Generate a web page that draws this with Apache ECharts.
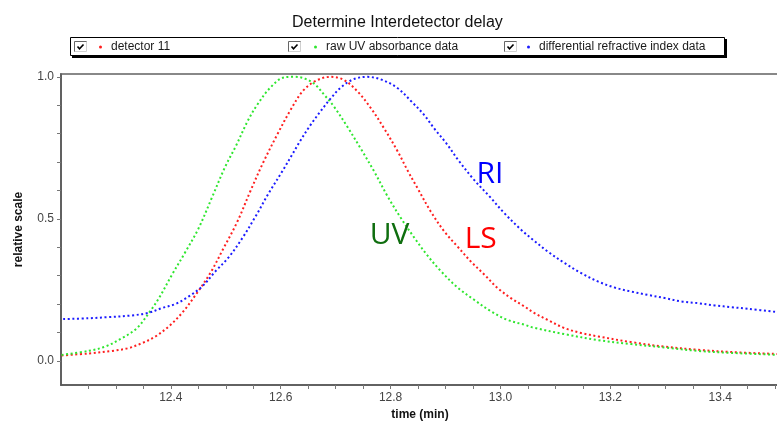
<!DOCTYPE html>
<html>
<head>
<meta charset="utf-8">
<title>Determine Interdetector delay</title>
<script src="https://cdn.jsdelivr.net/npm/echarts@6/dist/echarts.min.js"></script>
<style>
html, body { margin: 0; padding: 0; background: #fff; }
#main { width: 777px; height: 421px; }
</style>
</head>
<body>
<div id="main"></div>
<script>
// detector 11 (LS)
var lsTime  = [12.201, 12.25, 12.293, 12.323, 12.347, 12.372, 12.396, 12.42, 12.445, 12.472, 12.496, 12.521, 12.545, 12.569, 12.594, 12.618, 12.642, 12.667, 12.691, 12.715, 12.74, 12.764, 12.788, 12.813, 12.831, 12.849, 12.873, 12.898, 12.922, 12.946, 12.971, 12.995, 13.019, 13.044, 13.06, 13.086, 13.117, 13.147, 13.178, 13.238, 13.299, 13.36, 13.421, 13.507];
var lsValue = [0.019, 0.026, 0.035, 0.045, 0.062, 0.086, 0.121, 0.168, 0.232, 0.31, 0.397, 0.49, 0.599, 0.702, 0.798, 0.884, 0.954, 0.989, 1.0, 0.989, 0.948, 0.89, 0.819, 0.737, 0.67, 0.608, 0.526, 0.455, 0.402, 0.35, 0.303, 0.256, 0.221, 0.191, 0.17, 0.144, 0.115, 0.098, 0.086, 0.066, 0.05, 0.039, 0.031, 0.024];

// raw UV absorbance data
var uvTime  = [12.201, 12.25, 12.28, 12.311, 12.338, 12.362, 12.378, 12.402, 12.426, 12.45, 12.475, 12.499, 12.518, 12.54, 12.557, 12.581, 12.606, 12.625, 12.645, 12.663, 12.679, 12.697, 12.721, 12.746, 12.77, 12.794, 12.819, 12.843, 12.867, 12.892, 12.922, 12.952, 12.983, 13.013, 13.044, 13.06, 13.117, 13.178, 13.238, 13.299, 13.36, 13.421, 13.507];
var uvValue = [0.021, 0.035, 0.05, 0.08, 0.115, 0.174, 0.22, 0.303, 0.382, 0.465, 0.576, 0.684, 0.755, 0.845, 0.901, 0.962, 0.998, 1.0, 0.993, 0.972, 0.937, 0.895, 0.825, 0.746, 0.667, 0.581, 0.502, 0.434, 0.371, 0.315, 0.258, 0.215, 0.174, 0.144, 0.127, 0.117, 0.094, 0.073, 0.059, 0.047, 0.035, 0.028, 0.021];

// differential refractive index data
var riTime  = [12.204, 12.25, 12.286, 12.329, 12.359, 12.384, 12.408, 12.432, 12.457, 12.481, 12.505, 12.53, 12.554, 12.578, 12.603, 12.621, 12.636, 12.654, 12.673, 12.691, 12.709, 12.733, 12.758, 12.785, 12.813, 12.837, 12.861, 12.879, 12.901, 12.925, 12.952, 12.98, 13.007, 13.038, 13.06, 13.086, 13.117, 13.147, 13.178, 13.208, 13.238, 13.269, 13.299, 13.33, 13.36, 13.39, 13.421, 13.451, 13.507];
var riValue = [0.147, 0.15, 0.154, 0.16, 0.169, 0.186, 0.2, 0.226, 0.262, 0.315, 0.364, 0.432, 0.508, 0.59, 0.668, 0.727, 0.776, 0.83, 0.88, 0.924, 0.962, 0.992, 1.0, 0.989, 0.96, 0.915, 0.866, 0.819, 0.767, 0.702, 0.637, 0.579, 0.52, 0.461, 0.425, 0.385, 0.344, 0.309, 0.279, 0.258, 0.244, 0.232, 0.221, 0.209, 0.203, 0.195, 0.189, 0.183, 0.171];

var seriesNames = ['detector 11', 'raw UV absorbance data', 'differential refractive index data'];
var seriesColors = ['#ff1f1f', '#2fe62f', '#1c1cff'];

// text notes on the curves
var noteText  = ['LS', 'UV', 'RI'];
var noteTime  = [12.964, 12.798, 12.981];
var noteValue = [0.426, 0.442, 0.658];
var noteColors = ['#ff0000', '#0f6e0f', '#0000ff'];

var xTicks  = [12.25, 12.3, 12.35, 12.4, 12.45, 12.5, 12.55, 12.6, 12.65, 12.7, 12.75, 12.8, 12.85, 12.9, 12.95, 13.0, 13.05, 13.1, 13.15, 13.2, 13.25, 13.3, 13.35, 13.4, 13.45, 13.5];
var xLabels = [12.4, 12.6, 12.8, 13.0, 13.2, 13.4];
var yTicks  = [0, 0.1, 0.2, 0.3, 0.4, 0.5, 0.6, 0.7, 0.8, 0.9, 1.0];
var yLabels = [0, 0.5, 1.0];

function zip(t, v) {
    var out = [];
    for (var i = 0; i < t.length; i++) out.push([t[i], v[i]]);
    return out;
}

var curves = [zip(lsTime, lsValue), zip(uvTime, uvValue), zip(riTime, riValue)];

function checkbox(x) {
    return {
        type: 'group', x: x, y: 41,
        children: [
            { type: 'rect', z: 20, shape: { x: 0.5, y: 0.5, width: 12, height: 10 }, style: { fill: '#fff' } },
            { type: 'polyline', z: 21, shape: { points: [[0.5, 11], [0.5, 0.5], [13, 0.5]] }, style: { stroke: '#666', lineWidth: 1, fill: null } },
            { type: 'polyline', z: 21, shape: { points: [[0.5, 10.5], [12.5, 10.5], [12.5, 0.5]] }, style: { stroke: '#d0d0d0', lineWidth: 1, fill: null } },
            { type: 'polyline', z: 22, shape: { points: [[3.5, 5.5], [5.5, 7.8], [9.5, 3.5]] }, style: { stroke: '#000', lineWidth: 1.6, fill: null } }
        ]
    };
}

var legendLeft = [99, 314, 527];
var legends = [];
var series = [];
for (var i = 0; i < 3; i++) {
    legends.push({
        data: [seriesNames[i]],
        left: legendLeft[i], top: 41, z: 30, padding: 0,
        icon: 'circle', itemWidth: 3, itemHeight: 3,
        selectedMode: false,
        textStyle: { fontFamily: 'Liberation Sans', fontSize: 12, color: '#1a1a1a', padding: [0, 0, 0, 4] }
    });
    series.push({
        name: seriesNames[i],
        type: 'line',
        data: curves[i],
        smooth: 0.35,
        showSymbol: false,
        color: seriesColors[i],
        lineStyle: { width: 2, type: [2, 2.6], cap: 'butt', color: seriesColors[i] },
        markPoint: {
            symbol: 'circle', symbolSize: 1, silent: true,
            itemStyle: { color: 'rgba(0,0,0,0)' },
            label: { show: true, position: 'inside', formatter: noteText[i], color: noteColors[i], fontSize: 30, fontFamily: 'Open Sans' },
            data: [{ coord: [noteTime[i], noteValue[i]] }]
        }
    });
}

var myChart = echarts.init(document.getElementById('main'));
var option = {
    animation: false,
    backgroundColor: '#fff',
    title: {
        text: 'Determine Interdetector delay',
        left: 287, top: 10,
        textStyle: { fontFamily: 'Liberation Sans', fontSize: 16, fontWeight: 'normal', color: '#111' }
    },
    legend: legends,
    graphic: [
        // drop shadow, then the legend frame itself
        { type: 'rect', z: 9, shape: { x: 72, y: 39, width: 655, height: 19 }, style: { fill: '#000' } },
        { type: 'rect', z: 10, shape: { x: 70.5, y: 37.5, width: 654, height: 18 },
          style: { fill: '#fff', stroke: '#000', lineWidth: 1 } },
        checkbox(74), checkbox(288), checkbox(504)
    ],
    grid: { left: 61, right: -2, top: 74, bottom: 36, outerBoundsMode: 'none', containLabel: false,
            show: true, borderColor: '#888', borderWidth: 2 },
    xAxis: {
        type: 'value', min: 12.2, max: 13.507,
        name: 'time (min)', nameLocation: 'middle', nameGap: 21,
        nameTextStyle: { fontFamily: 'Liberation Sans', fontSize: 12, fontWeight: 'bold', color: '#111' },
        axisLine: { onZero: false, lineStyle: { color: '#555', width: 1.5 } },
        axisTick: { customValues: xTicks, length: 4, lineStyle: { color: '#777' } },
        axisLabel: { customValues: xLabels, margin: 7, fontFamily: 'Liberation Sans', fontSize: 12, color: '#444',
                     formatter: function (v) { return v.toFixed(1); } },
        splitLine: { show: false }
    },
    yAxis: {
        type: 'value', min: -0.085, max: 1.01,
        name: 'relative scale', nameLocation: 'middle', nameGap: 36, nameRotate: 90,
        nameTextStyle: { fontFamily: 'Liberation Sans', fontSize: 12, fontWeight: 'bold', color: '#111' },
        axisLine: { show: true, onZero: false, lineStyle: { color: '#555', width: 1.5 } },
        axisTick: { show: true, customValues: yTicks, length: 4, lineStyle: { color: '#777' } },
        axisLabel: { customValues: yLabels, margin: 7, fontFamily: 'Liberation Sans', fontSize: 12, color: '#444',
                     formatter: function (v) { return v.toFixed(1); } },
        splitLine: { show: false }
    },
    series: series
};
myChart.setOption(option);
</script>
</body>
</html>
